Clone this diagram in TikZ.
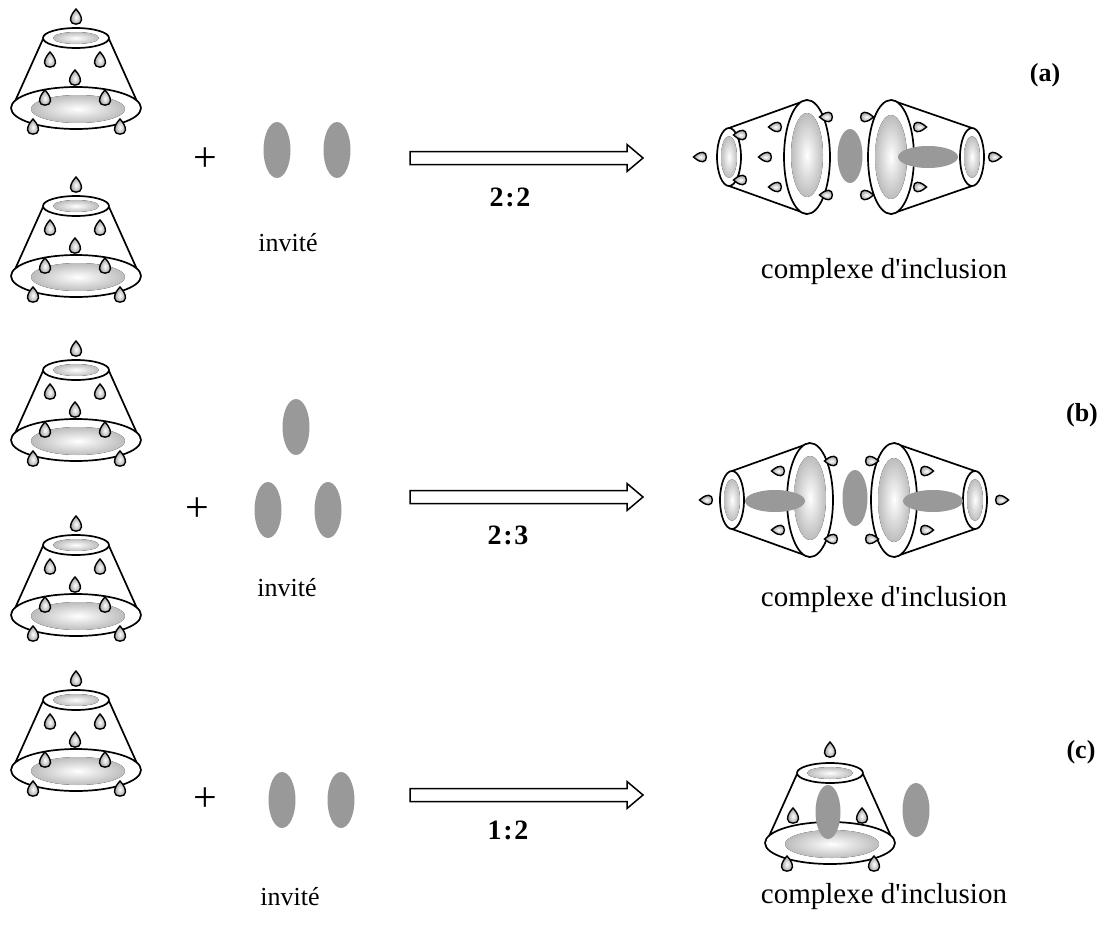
\documentclass[tikz,border=0pt]{standalone}
\usepackage{fontspec}
\setmainfont{Liberation Serif}
\definecolor{guestgray}{gray}{0.6}
\definecolor{ringshade}{gray}{0.74}
\tikzset{
  rim/.style={draw=black, line width=1.7pt},
  guest/.style={fill=guestgray},
  hollowarrow/.style={draw=black, line width=1.5pt, fill=white, line join=miter},
  txt/.style={font=\fontsize{26}{30}\selectfont, inner sep=0pt},
  cplx/.style={font=\fontsize{29}{33}\selectfont, inner sep=0pt},
  ratio/.style={font=\fontsize{28}{32}\selectfont\bfseries\addfontfeature{LetterSpace=6}, inner sep=0pt},
  tag/.style={font=\fontsize{26}{30}\selectfont\bfseries, inner sep=0pt},
  plus/.style={font=\fontsize{42}{44}\selectfont, inner sep=0pt},
  % small hydroxyl bump, tip pointing up
  knob/.pic={
    \path[draw=black, line width=1.4pt, inner color=white, outer color=gray!75]
      (0,-10) .. controls (2,-7.5) and (5.5,-4) .. (5.5,1)
      .. controls (5.5,6.5) and (-5.5,6.5) .. (-5.5,1)
      .. controls (-5.5,-4) and (-2,-7.5) .. (0,-10) -- cycle;
  },
  % truncated cone, narrow rim on top
  cdbody/.pic={
    \draw[rim] (-33,1) -- (-64,70);
    \draw[rim] (33,1) -- (64,70);
    \draw[rim, fill=white] (0,70) ellipse [x radius=65, y radius=21];
    \fill[inner color=white, outer color=ringshade] (2,71) ellipse [x radius=47, y radius=14];
    \draw[rim, fill=white] (0,0) ellipse [x radius=33, y radius=10];
    \fill[inner color=white, outer color=ringshade] (0,0) ellipse [x radius=23, y radius=6];
  },
  % two cones lying on their side, wide rims facing each other
  hpair/.pic={
    \draw[rim] (-123,-29) -- (-45,-57);
    \draw[rim] (-123,29) -- (-45,57);
    \draw[rim] (120,-29) -- (39,-57);
    \draw[rim] (120,29) -- (39,57);
    \draw[rim, fill=white] (-123,0) ellipse [x radius=12, y radius=29];
    \fill[inner color=white, outer color=ringshade] (-123,0) ellipse [x radius=8, y radius=21];
    \draw[rim, fill=white] (-45,0) ellipse [x radius=23, y radius=57];
    \fill[inner color=white, outer color=ringshade] (-45,-2) ellipse [x radius=16, y radius=42];
    \draw[rim, fill=white] (39,0) ellipse [x radius=23, y radius=57];
    \fill[inner color=white, outer color=ringshade] (39,0) ellipse [x radius=16, y radius=42];
    \draw[rim, fill=white] (120,0) ellipse [x radius=12, y radius=29];
    \fill[inner color=white, outer color=ringshade] (120,0) ellipse [x radius=8, y radius=21];
  },
}
\begin{document}
\begin{tikzpicture}[x=1pt, y=-1pt]
\useasboundingbox[fill=white] (0,0) rectangle (1112,926);

% ---------- reactant cones ----------
\foreach \cy in {38, 206, 370, 545, 700} {
  \begin{scope}[shift={(76,\cy)}]
    \pic {cdbody};
    \foreach \kx/\ky in {0/-19, -26/24, 24/24, -1/42, -31/62, 29/62, -43/91, 44/91}
      \pic at (\kx,\ky) {knob};
  \end{scope}
}

% ---------- plus signs ----------
\node[plus] (plus-a) at (205,160) {+};
\node[plus] (plus-b) at (197,510) {+};
\node[plus] (plus-c) at (205,800) {+};

% ---------- guests ----------
\fill[guest] (277,150) ellipse [x radius=13.5, y radius=28];
\fill[guest] (337,150) ellipse [x radius=13.5, y radius=28];
\fill[guest] (296,427) ellipse [x radius=13.5, y radius=28];
\fill[guest] (268,510) ellipse [x radius=13.5, y radius=28];
\fill[guest] (328,510) ellipse [x radius=13.5, y radius=28];
\fill[guest] (282,800) ellipse [x radius=13.5, y radius=28];
\fill[guest] (341,800) ellipse [x radius=13.5, y radius=28];

\node[txt] (inv-a) at (288,243) {invité};
\node[txt] (inv-b) at (287,588) {invité};
\node[txt] (inv-c) at (290,897) {invité};

% ---------- reaction arrows ----------
\foreach \ay in {158, 497, 795} {
  \draw[hollowarrow] (410,\ay-6.5) -- (627,\ay-6.5) -- (627,\ay-13.5) -- (643,\ay)
    -- (627,\ay+13.5) -- (627,\ay+6.5) -- (410,\ay+6.5) -- cycle;
}
\node[ratio] (r-a) at (510,197) {2:2};
\node[ratio] (r-b) at (508,535) {2:3};
\node[ratio] (r-c) at (508,830) {1:2};

% ---------- complex (a) ----------
\begin{scope}[shift={(852,157)}]
  \pic {hpair};
  \foreach \kx/\ky in {-150/0, -110/-22, -110/23, -75/-30, -75/30, -85/0, -24/-40, -24/38}
    \pic[rotate=90, scale=0.85] at (\kx,\ky) {knob};
  \foreach \kx/\ky in {13/-40, 13/38, 66/-30, 66/30, 141/0}
    \pic[rotate=-90, scale=0.85] at (\kx,\ky) {knob};
  \fill[guest] (-2,-1) ellipse [x radius=12.5, y radius=27];
  \fill[guest] (76,0) ellipse [x radius=30, y radius=11];
\end{scope}
\node[cplx] (cx-a) at (884,272) {complexe d\textquotesingle inclusion};
\node[tag] (tag-a) at (1045,75) {(a)};

% ---------- complex (b) ----------
\begin{scope}[shift={(855,500)}]
  \pic {hpair};
  \fill[guest] (-80,1) ellipse [x radius=30, y radius=11];
  \fill[guest] (78,1) ellipse [x radius=30, y radius=11];
  \foreach \kx/\ky in {-147/0, -75/-29, -75/30, -22/-39, -22/39}
    \pic[rotate=90, scale=0.85] at (\kx,\ky) {knob};
  \foreach \kx/\ky in {15/-39, 15/39, 70/-29, 70/30, 145/0}
    \pic[rotate=-90, scale=0.85] at (\kx,\ky) {knob};
  \fill[guest] (0,-2) ellipse [x radius=12.5, y radius=28];
\end{scope}
\node[cplx] (cx-b) at (884,600) {complexe d\textquotesingle inclusion};
\node[tag] (tag-b) at (1082,415) {(b)};

% ---------- complex (c) ----------
\begin{scope}[shift={(830,773)}]
  \pic {cdbody};
  \foreach \kx/\ky in {0/-21, -37/45, 32/45, -43/93, 44/93}
    \pic at (\kx,\ky) {knob};
  \fill[guest] (-2,39) ellipse [x radius=12.5, y radius=27];
\end{scope}
\fill[guest] (916,810) ellipse [x radius=13.5, y radius=27];
\node[cplx] (cx-c) at (884,897) {complexe d\textquotesingle inclusion};
\node[tag] (tag-c) at (1081,752) {(c)};

\end{tikzpicture}
\end{document}
